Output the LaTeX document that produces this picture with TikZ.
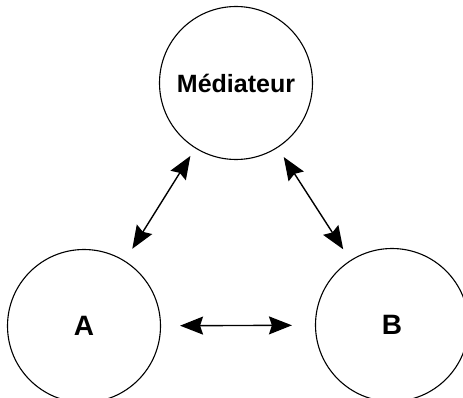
\documentclass[tikz,border=0pt]{standalone}
\usepackage{fontspec}
\setmainfont{Liberation Sans}
\usetikzlibrary{arrows.meta}
\begin{document}
\begin{tikzpicture}[x=1pt,y=-1pt,
  party/.style={circle, draw, line width=1.1pt, inner sep=0pt,
    minimum size=153pt, font=\fontsize{25}{25}\selectfont\bfseries},
  link/.style={line width=1.4pt,
    arrows={Stealth[length=23pt,width=18pt,inset=3pt]-Stealth[length=23pt,width=18pt,inset=3pt]}}
]
  \useasboundingbox (0,0) rectangle (463,398);
  \node[party] (M) at (236,83) {Médiateur};
  \node[party, font=\fontsize{28}{28}\selectfont\bfseries] (A) at (84,326) {A};
  \node[party, font=\fontsize{28}{28}\selectfont\bfseries] (B) at (392,325) {B};
  \draw[link, shorten <=9pt, shorten >=14pt] (M) -- (A);
  \draw[link, shorten <=11pt, shorten >=13pt] (M) -- (B);
  \draw[link, shorten <=19pt, shorten >=23pt] (A) -- (B);
\end{tikzpicture}
\end{document}
